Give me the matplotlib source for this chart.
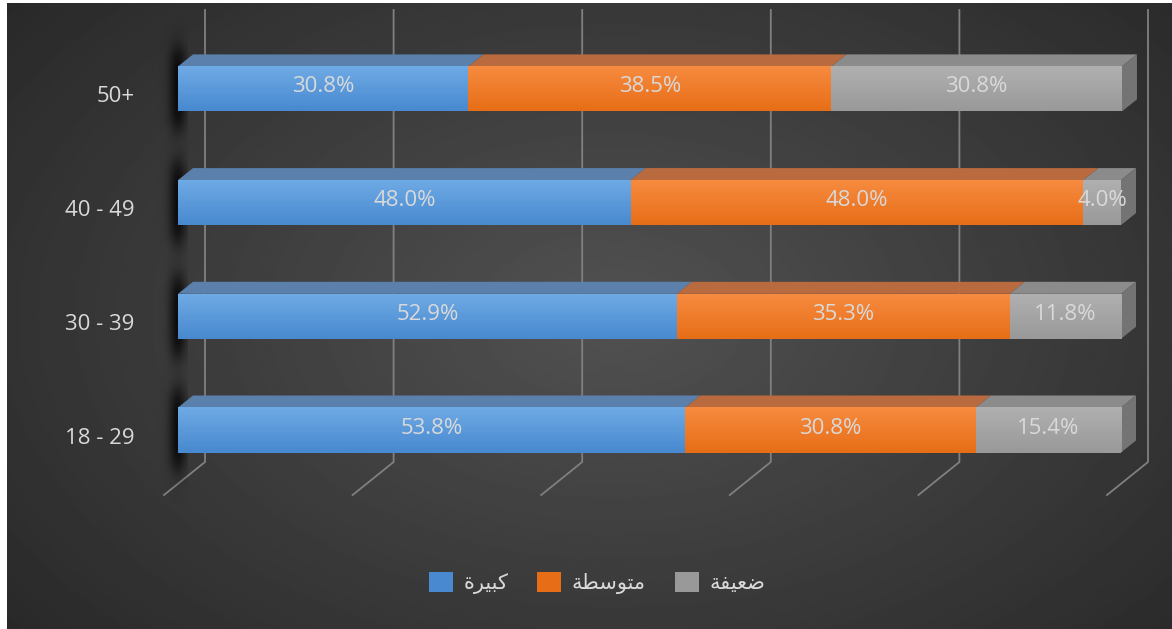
import numpy as np
import matplotlib.pyplot as plt
from matplotlib.colors import to_rgb
from matplotlib.patches import Polygon, Patch

# data (percent of each age group)
categories = ['18 - 29', '30 - 39', '40 - 49', '50+']
strong = [53.8, 52.9, 48.0, 30.8]
medium = [30.8, 35.3, 48.0, 38.5]
weak = [15.4, 11.8, 4.0, 30.8]
# series names; matplotlib does no arabic shaping, so they are written
# with presentation forms in visual order
series_names = ['\uFE93\uFEAE\uFEF4\uFE92\uFEDB',        # كبيرة
                '\uFE94\uFEC4\uFEB3\uFEEE\uFE98\uFEE3',  # متوسطة
                '\uFE94\uFED4\uFEF4\uFECC\uFEBF']        # ضعيفة
x_ticks = [0, 20, 40, 60, 80, 100]

# front colour (top, bottom), top face colour, side face colour
front_cols = [('#6eaae5', '#4889cf'), ('#f78b40', '#e76e17'), ('#b0b0b0', '#999999')]
top_cols = ['#5a80ab', '#b96a3e', '#8b8b8b']
side_cols = ['#4a6d96', '#a2562c', '#747474']
txt_col = '#d9d9d9'

W, H = 1172, 629
fig = plt.figure(figsize=(W / 100, H / 100), dpi=100, facecolor='white')

# dark panel with radial gradient
bg = fig.add_axes([7 / W, 0, (W - 7) / W, (H - 3) / H])
yy, xx = np.mgrid[0:1:300j, 0:1:600j]
r = np.sqrt(((xx - 0.52) / 0.72) ** 2 + ((yy - 0.5) / 0.85) ** 2)
shade = np.clip(0.32 - 0.17 * r, 0.15, 0.32)
bg.imshow(shade, cmap='gray', vmin=0, vmax=1, aspect='auto', extent=(0, 1, 0, 1))
bg.axis('off')

# plot axes, scaled so that 1 percent / 1 category step is a fixed number of pixels
px_x, px_y = 9.43, 113.7
x0_px, y0_px = 178, 430
ax_l, ax_r, ax_t, ax_b = 20, 1160, 5, 525
ax = fig.add_axes([ax_l / W, 1 - ax_b / H, (ax_r - ax_l) / W, (ax_b - ax_t) / H])
ax.patch.set_alpha(0)

dx, dy = 15 / px_x, 12 / px_y          # bar depth
h = 45 / px_y                           # bar front height
y = np.arange(len(categories))

# gridlines on the back wall + floor
g_back, g_front = 27 / px_x, -14 / px_x
g_top, g_corner, g_floor = (y0_px - 10) / px_y, (y0_px - 462) / px_y, (y0_px - 495) / px_y
for t in x_ticks:
    ax.plot([t + g_back, t + g_back, t + g_front], [g_top, g_corner, g_floor],
            color='#808080', lw=1.3, zorder=1)

# soft shadow at the left end of each bar
sx = np.linspace(-3.5, 1.0, 90)
for yi in y:
    sy = np.linspace(yi - h / 2 - 0.5, yi + h / 2 + 0.5, 140)
    X, Y = np.meshgrid(sx, sy)
    fx = np.exp(-((X + 0.05) / 0.9) ** 2)
    fy = 1 / (1 + np.exp(-(Y - (yi - h / 2 - 0.15)) / 0.06)) * \
        1 / (1 + np.exp((Y - (yi + h / 2 + 0.15)) / 0.06))
    img = np.zeros(X.shape + (4,))
    img[..., 3] = 0.8 * fx * fy
    ax.imshow(img, extent=(sx[0], sx[-1], sy[0], sy[-1]), origin='lower',
              aspect='auto', zorder=2, interpolation='bilinear')

left = np.zeros(len(categories))
for k, vals in enumerate([strong, medium, weak]):
    vals = np.array(vals)
    ax.barh(y, vals, left=left, height=h, color=front_cols[k][1], zorder=3)
    grad = np.linspace(to_rgb(front_cols[k][0]), to_rgb(front_cols[k][1]), 50)[:, None, :]
    for yi, l, v in zip(y, left, vals):
        ax.imshow(grad, extent=(l, l + v, yi - h / 2, yi + h / 2), aspect='auto',
                  zorder=3.1, interpolation='bilinear')
        yt = yi + h / 2
        ax.add_patch(Polygon([(l, yt), (l + v, yt), (l + v + dx, yt + dy), (l + dx, yt + dy)],
                             closed=True, facecolor=top_cols[k], edgecolor='none', zorder=3))
        ax.text(l + v / 2, yi + 2 / px_y, f'{v:.1f}%', ha='center', va='center',
                color=txt_col, fontsize=16, family='Open Sans', zorder=5)
    left = left + vals

# right side face of the last segment
for yi, l in zip(y, left):
    yb, yt = yi - h / 2, yi + h / 2
    ax.add_patch(Polygon([(l, yb), (l, yt), (l + dx, yt + dy), (l + dx, yb + dy)],
                         closed=True, facecolor=side_cols[2], edgecolor='none', zorder=3))

for yi, cat in zip(y, categories):
    ax.text(-4.6, yi - 8 / px_y, cat, ha='right', va='center', color=txt_col,
            fontsize=16, family='Open Sans')

ax.set_xlim((ax_l - x0_px) / px_x, (ax_r - x0_px) / px_x)
ax.set_ylim((y0_px - ax_b) / px_y, (y0_px - ax_t) / px_y)
ax.axis('off')

handles = [Patch(facecolor=front_cols[k][1], edgecolor='none') for k in range(3)]
fig.legend(handles, series_names, loc='center', bbox_to_anchor=(597 / W, 1 - 583 / H),
           ncol=3, frameon=False, prop={'family': ['DejaVu Sans'], 'size': 15},
           labelcolor=txt_col, handlelength=1.15, handleheight=1.15,
           handletextpad=0.5, columnspacing=1.4)

fig.savefig('out.png', dpi=100, facecolor='white')
